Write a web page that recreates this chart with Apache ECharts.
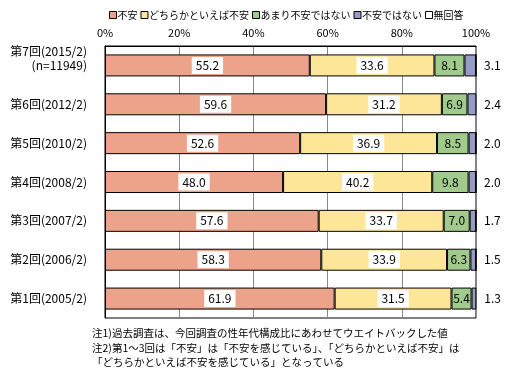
<!DOCTYPE html>
<html><head><meta charset="utf-8">
<script src="https://cdn.jsdelivr.net/npm/echarts@6/dist/echarts.min.js"></script>
<style>html,body{margin:0;padding:0;background:#fff}#c{width:511px;height:377px}</style>
</head><body><div id="c"></div>
<script>
const categories = ['第7回(2015/2)\n(n=11949)','第6回(2012/2)','第5回(2010/2)','第4回(2008/2)','第3回(2007/2)','第2回(2006/2)','第1回(2005/2)'];
const anxious = [55.2,59.6,52.6,48.0,57.6,58.3,61.9];
const ratherAnxious = [33.6,31.2,36.9,40.2,33.7,33.9,31.5];
const notVery = [8.1,6.9,8.5,9.8,7.0,6.3,5.4];
const notAnxious = [3.1,2.4,2.0,2.0,1.7,1.5,1.3];
const noAnswer = [0,0,0,0,0,0,0];
const seriesNames = ['不安','どちらかといえば不安','あまり不安ではない','不安ではない','無回答'];
const xTicks = ['0%','20%','40%','60%','80%','100%'];
const notes = ['注1)過去調査は、今回調査の性年代構成比にあわせてウエイトバックした値','注2)第1～3回は「不安」は「不安を感じている」、「どちらかといえば不安」は','「どちらかといえば不安を感じている」となっている'];

const font = '"Noto Sans CJK JP", sans-serif';
const colors = ['#eda28a','#fde698','#a0cb8c','#959cc5','#ffffff'];
const chart = echarts.init(document.getElementById('c'));
const labelBox = {show:true, position:'inside', color:'#000', fontSize:12, fontFamily:font, backgroundColor:'#fff', padding:[3,4,2,4], formatter:p=>p.value.toFixed(1)};
const mk = (name, data, i, label) => ({
  name, type:'bar', stack:'s', data, barWidth:22,
  itemStyle:{color:colors[i], borderColor:'#000', borderWidth:1},
  label, emphasis:{disabled:true}
});
chart.setOption({
  animation:false,
  textStyle:{fontFamily:font},
  legend:{
    data:seriesNames, left:104, top:5, itemWidth:7, itemHeight:7, itemGap:3,
    icon:'rect', textStyle:{fontSize:10, fontFamily:font, color:'#000', padding:[0,0,0,-4]},
    itemStyle:{borderColor:'#000', borderWidth:1}
  },
  grid:{left:105, right:35, top:46, bottom:59, show:true, borderColor:'#000', borderWidth:1},
  xAxis:{type:'value', min:0, max:100, interval:20, position:'top',
    axisLine:{show:true, lineStyle:{color:'#000'}}, axisTick:{show:false},
    axisLabel:{formatter:v=>xTicks[v/20], fontSize:11, color:'#000', fontFamily:font, margin:8},
    splitLine:{show:true, lineStyle:{color:'#888'}}},
  yAxis:{type:'category', data:categories, inverse:true,
    axisLine:{show:true, lineStyle:{color:'#000'}}, axisTick:{show:false},
    axisLabel:{fontSize:12, color:'#000', fontFamily:font, margin:18, align:'right', lineHeight:14,
      formatter:(v,i)=> i===0 ? v + '\n ' : v}},
  series:[
    mk(seriesNames[0], anxious, 0, labelBox),
    mk(seriesNames[1], ratherAnxious, 1, labelBox),
    mk(seriesNames[2], notVery, 2, {show:true, position:'inside', color:'#000', fontSize:12, fontFamily:font, formatter:p=>p.value.toFixed(1)}),
    mk(seriesNames[3], notAnxious, 3, {show:true, position:'right', distance:8, color:'#000', fontSize:12, fontFamily:font, formatter:p=>p.value.toFixed(1)}),
    mk(seriesNames[4], noAnswer, 4, {show:false})
  ],
  graphic: notes.map((t,i)=>({type:'text', left:92, top:328+i*14.5, style:{text:t, fontSize:10.5, fontFamily:font, fill:'#000'}}))
});
</script></body></html>
